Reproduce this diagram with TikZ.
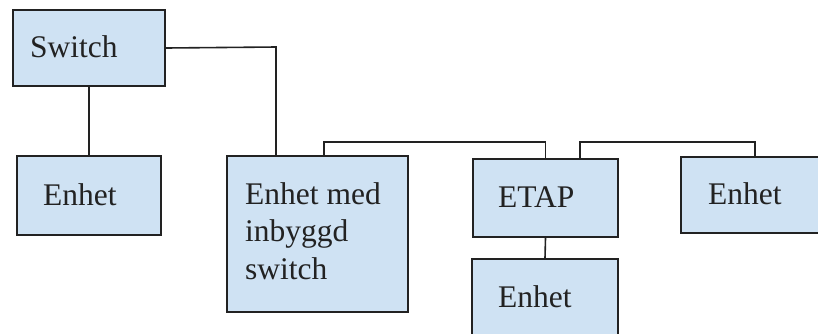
\documentclass[tikz,border=0pt]{standalone}
\usepackage{fontspec}
\setmainfont{Liberation Serif}
\definecolor{boxblue}{HTML}{CFE2F3}
\definecolor{ink}{HTML}{222222}
\begin{document}
\begin{tikzpicture}[x=1pt,y=-1pt,
  box/.style={draw=ink, line width=2pt, fill=boxblue, anchor=north west, inner sep=0pt},
  txt/.style={anchor=base west, inner sep=0pt, text=ink, font=\fontsize{31.5}{37.5}\selectfont, align=left},
  wire/.style={draw=ink, line width=1.6pt}]
\useasboundingbox (0,0) rectangle (818,333);
\clip (0,0) rectangle (818,333);
% boxes
\node[box, minimum width=152pt, minimum height=76pt] (sw) at (12,9) {};
\node[box, minimum width=144pt, minimum height=79pt] (e1) at (16,155) {};
\node[box, minimum width=181pt, minimum height=156pt] (em) at (226,155) {};
\node[box, minimum width=145pt, minimum height=78pt] (etap) at (472,158) {};
\node[box, minimum width=148pt, minimum height=76pt] (er) at (680,156) {};
\node[box, minimum width=146pt, minimum height=90pt] (eb) at (471,258) {};
% texts
\node[txt] (tsw) at (30,57) {Switch};
\node[txt] (te1) at (43,205) {Enhet};
\node[txt] (tem) at (245,279) {Enhet med\\inbyggd\\switch};
\node[txt] (tetap) at (498,207) {ETAP};
\node[txt] (ter) at (708,204) {Enhet};
\node[txt] (teb) at (498,307) {Enhet};
% connectors
\coordinate (bus0) at (276,47);
\coordinate (bus1) at (324,142);
\coordinate (bus2) at (580,142);
\draw[wire] (sw.south) -- (e1.north);
\draw[wire] (sw.east) -- (bus0) -- (em.north -| bus0);
\draw[wire] (em.north -| bus1) -- (bus1) -| (etap.north);
\draw[wire] (etap.north -| bus2) -- (bus2) -| (er.north);
\draw[wire] (etap.south) -- (eb.north);
\end{tikzpicture}
\end{document}
